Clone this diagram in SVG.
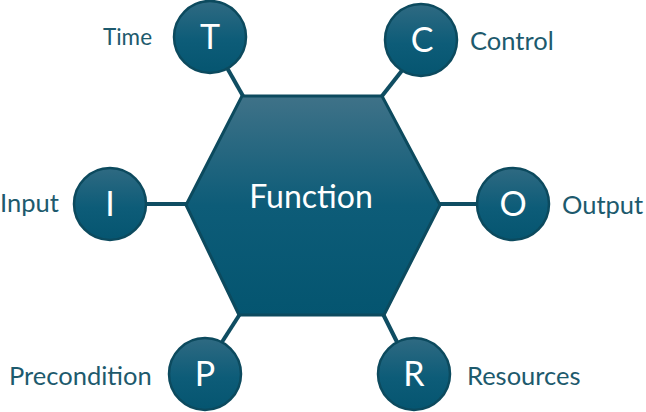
<svg xmlns="http://www.w3.org/2000/svg" width="646" height="412" viewBox="0 0 646 412">
  <defs>
    <linearGradient id="gHex" x1="0" y1="0" x2="0" y2="1">
      <stop offset="0" stop-color="#3f7288"/>
      <stop offset="0.5" stop-color="#0d5c78"/>
      <stop offset="1" stop-color="#045570"/>
    </linearGradient>
    <linearGradient id="gCirc" x1="0" y1="0" x2="0" y2="1">
      <stop offset="0" stop-color="#2f6a82"/>
      <stop offset="0.55" stop-color="#0d5c78"/>
      <stop offset="1" stop-color="#055570"/>
    </linearGradient>
  </defs>
  <style>
    .conn { stroke: #0f4d62; stroke-width: 4; fill: none; }
    .circ { fill: url(#gCirc); stroke: #0c4a5e; stroke-width: 2.5; }
    .hex { fill: url(#gHex); stroke: #0c4a5e; stroke-width: 3; }
    .letter { font-family: Lato, "Liberation Sans", sans-serif; font-size: 34px; fill: #ffffff; text-anchor: middle; }
    .label { font-family: Lato, "Liberation Sans", sans-serif; font-size: 25.5px; fill: #1d5a6d; }
    .title { font-family: Lato, "Liberation Sans", sans-serif; font-size: 32px; fill: #ffffff; text-anchor: middle; }
  </style>
  <rect width="646" height="412" fill="#ffffff"/>
  <g id="connectors">
    <line class="conn" x1="226" y1="66" x2="243" y2="96"/>
    <line class="conn" x1="404" y1="68" x2="382" y2="96"/>
    <line class="conn" x1="146" y1="204" x2="187" y2="204"/>
    <line class="conn" x1="439" y1="204" x2="477" y2="204"/>
    <line class="conn" x1="222" y1="342" x2="240" y2="314"/>
    <line class="conn" x1="397" y1="342" x2="383" y2="314"/>
  </g>
  <g id="function">
    <polygon class="hex" points="242,96 382,96 440,205 384,315 239,315 186,205"/>
    <text class="title" x="311" y="208">Function</text>
  </g>
  <g id="time">
    <circle class="circ" cx="210" cy="37" r="36"/>
    <text class="letter" x="210" y="49">T</text>
    <text class="label" x="103" y="45" style="font-size:22.5px">Time</text>
  </g>
  <g id="control">
    <circle class="circ" cx="421" cy="40" r="36"/>
    <text class="letter" x="422" y="52">C</text>
    <text class="label" x="470" y="50">Control</text>
  </g>
  <g id="input">
    <circle class="circ" cx="110" cy="204" r="36"/>
    <text class="letter" x="110" y="216">I</text>
    <text class="label" x="0" y="212">Input</text>
  </g>
  <g id="output">
    <circle class="circ" cx="513" cy="204" r="36"/>
    <text class="letter" x="513" y="216">O</text>
    <text class="label" x="562" y="214">Output</text>
  </g>
  <g id="precondition">
    <circle class="circ" cx="205" cy="374" r="36"/>
    <text class="letter" x="205" y="386">P</text>
    <text class="label" x="9" y="385">Precondition</text>
  </g>
  <g id="resources">
    <circle class="circ" cx="414" cy="374" r="36"/>
    <text class="letter" x="414" y="386">R</text>
    <text class="label" x="467" y="385">Resources</text>
  </g>
</svg>
